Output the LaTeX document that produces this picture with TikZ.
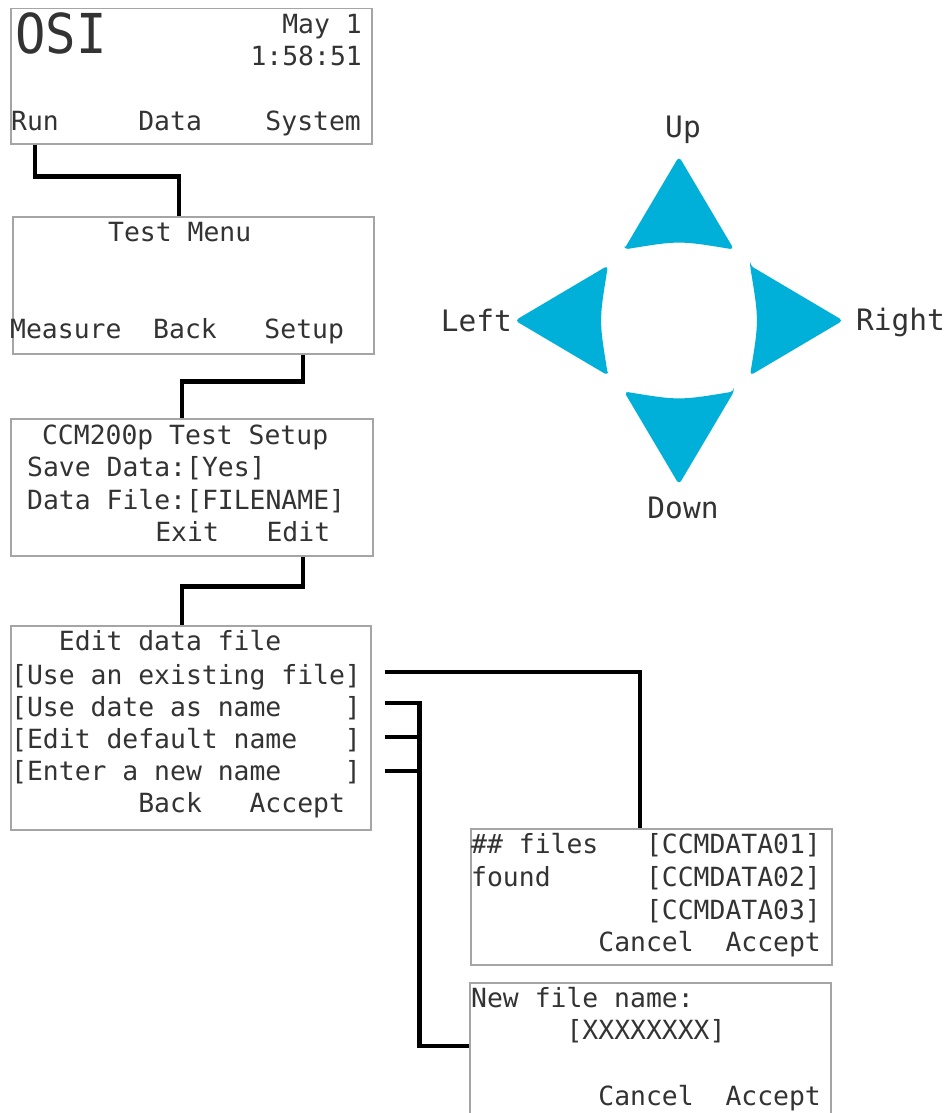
\documentclass[tikz,border=0pt]{standalone}
\usepackage{fontspec}
\usetikzlibrary{calc}
\newfontfamily\lcd{DejaVu Sans Mono}
\definecolor{padblue}{RGB}{0,176,216}
\definecolor{boxgray}{RGB}{165,165,165}
\begin{document}
\begin{tikzpicture}[x=1pt,y=-1pt,
  lcdbox/.style={draw=boxgray,line width=1.5pt,inner sep=0,anchor=north west},
  lcdtext/.style={font=\lcd\fontsize{26.4}{32}\selectfont,inner sep=0,anchor=base west,text=black!80},
  padlabel/.style={lcdtext,font=\lcd\fontsize{29.5}{32}\selectfont},
  conn/.style={line width=4.6pt,black},
  pad/.style={fill=padblue,rounded corners=4pt}]
\useasboundingbox[fill=white] (0,0) rectangle (952,1113);
% boxes
\node[lcdbox,minimum width=361pt,minimum height=135pt] (b1) at (10,8) {};
\node[lcdbox,minimum width=361pt,minimum height=137pt] (b2) at (12,216) {};
\node[lcdbox,minimum width=362pt,minimum height=137pt] (b3) at (10,418) {};
\node[lcdbox,minimum width=360pt,minimum height=204pt] (b4) at (10,625) {};
\node[lcdbox,minimum width=361pt,minimum height=136pt] (b5) at (470,828) {};
\node[lcdbox,minimum width=361pt,minimum height=145pt] (b6) at (469,982) {};
% box 1
\node[lcdtext,font=\lcd\fontsize{55}{60}\selectfont,xscale=0.92] (osi) at (15,54) {OSI};
\node[lcdtext,anchor=base east] (date) at (362,34) {May~1};
\node[lcdtext,anchor=base east] (time) at (362,66) {1:58:51};
\node[lcdtext] (m1) at (11,131) {Run~~~~~Data~~~~System};
% box 2
\node[lcdtext] (t2) at (108,241) {Test~Menu};
\node[lcdtext] (m2) at (10,338) {Measure~~Back~~~Setup};
% box 3
\node[lcdtext] (t3a) at (26,444) {~CCM200p~Test~Setup};
\node[lcdtext] (t3b) at (27,476) {Save~Data:[Yes]};
\node[lcdtext] (t3c) at (27,509) {Data~File:[FILENAME]};
\node[lcdtext] (t3d) at (28,541) {~~~~~~~~Exit~~~Edit};
% box 4
\node[lcdtext] (t4a) at (11,650) {~~~Edit~data~file};
\node[lcdtext] (t4b) at (11,684) {[Use~an~existing~file]};
\node[lcdtext] (t4c) at (11,716) {[Use~date~as~name~~~~]};
\node[lcdtext] (t4d) at (11,748) {[Edit~default~name~~~]};
\node[lcdtext] (t4e) at (11,780) {[Enter~a~new~name~~~~]};
\node[lcdtext] (t4f) at (11,812) {~~~~~~~~Back~~~Accept};
% box 5
\node[lcdtext] (t5a) at (471,853) {\#\#~files~~~[CCMDATA01]};
\node[lcdtext] (t5b) at (471,886) {found~~~~~~[CCMDATA02]};
\node[lcdtext] (t5c) at (471,919) {~~~~~~~~~~~[CCMDATA03]};
\node[lcdtext] (t5d) at (471,951) {~~~~~~~~Cancel~~Accept};
% box 6
\node[lcdtext] (t6a) at (471,1007) {New~file~name:};
\node[lcdtext] (t6b) at (471,1039) {~~~~~~[XXXXXXXX]};
\node[lcdtext] (t6c) at (471,1105) {~~~~~~~~Cancel~~Accept};
% connectors
\draw[conn] ([xshift=25pt]b1.south west) -- ++(0,32) -| ([xshift=167pt]b2.north west);
\draw[conn] ([xshift=291pt]b2.south west) -- ++(0,27) -| ([xshift=172pt]b3.north west);
\draw[conn] ([xshift=293pt]b3.south west) -- ++(0,30) -| ([xshift=172pt]b4.north west);
\coordinate (s0) at ($(b4.north east)+(13,47)$);
\coordinate (s1) at ($(b4.north east)+(13,78)$);
\coordinate (s2) at ($(b4.north east)+(13,112)$);
\coordinate (s3) at ($(b4.north east)+(13,146)$);
\draw[conn] (s0) -| ([xshift=170pt]b5.north west);
\draw[conn] (s1) -- ++(35,0) |- ([yshift=-64pt]b6.north west);
\draw[conn] (s2) -- ++(35,0);
\draw[conn] (s3) -- ++(35,0);
% direction pad
\coordinate (pc) at (679,320.5);
\foreach \a in {0,90,180,270}{
  \fill[pad,shift={(pc)},rotate=\a] (-55,-71) -- (0,-164) -- (55,-71) .. controls (0,-80) .. (-55,-71) -- cycle;
}
\node[padlabel,anchor=base] (lup) at (683,137) {Up};
\node[padlabel,anchor=base] (ldown) at (683,518) {Down};
\node[padlabel,anchor=base east] (lleft) at (512,331) {Left};
\node[padlabel] (lright) at (856,330) {Right};
\end{tikzpicture}
\end{document}
